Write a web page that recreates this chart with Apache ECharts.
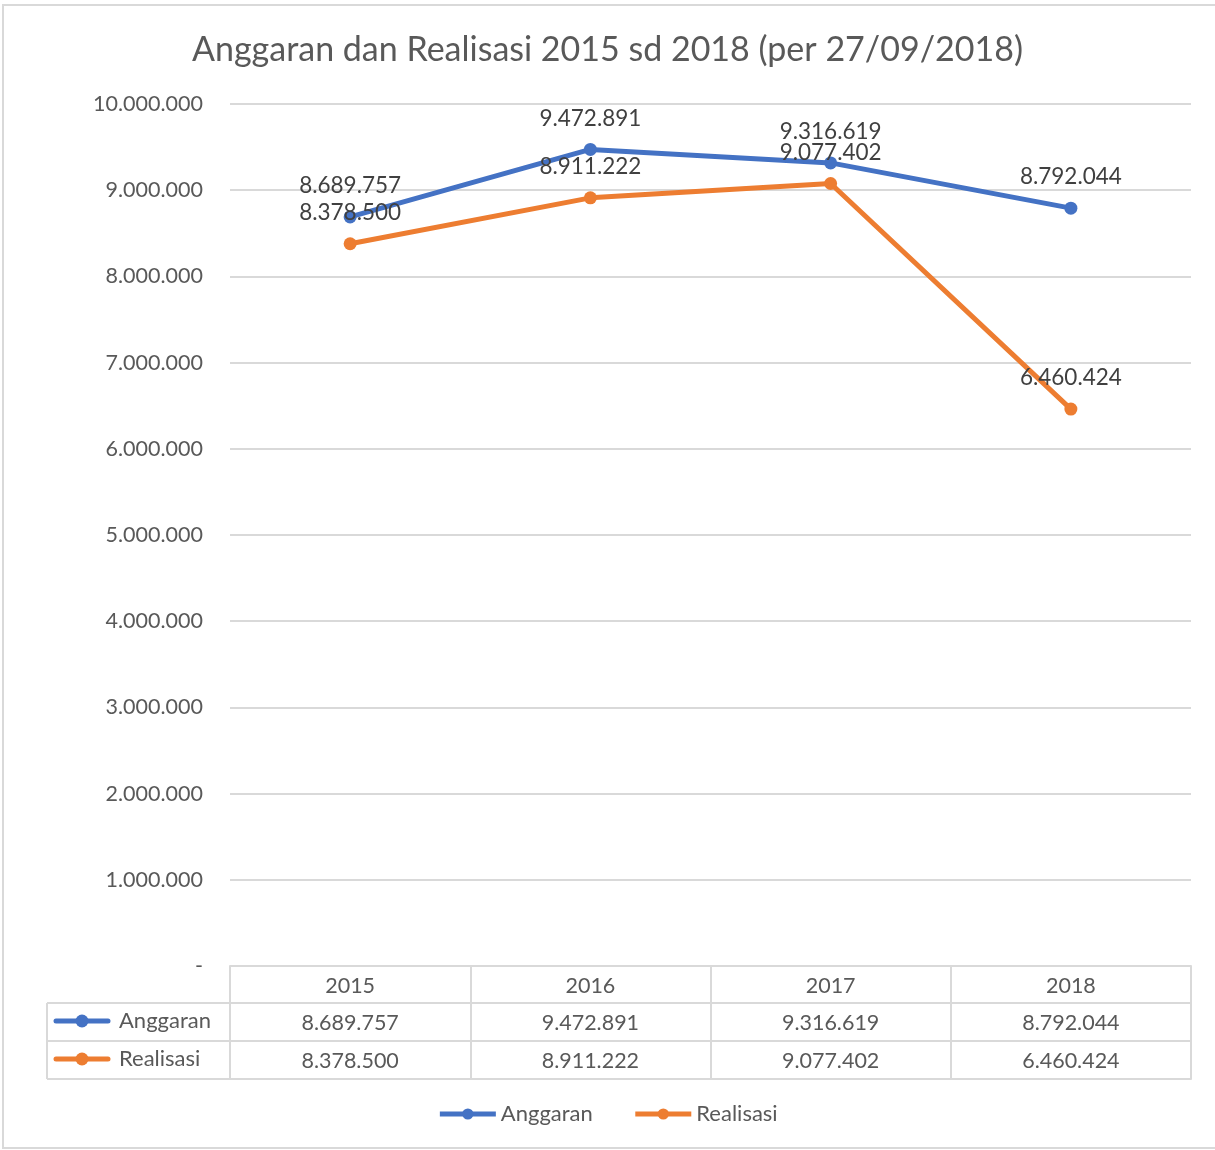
<!DOCTYPE html>
<html>
<head>
<meta charset="utf-8">
<script src="https://cdn.jsdelivr.net/npm/echarts@6/dist/echarts.min.js"></script>
<style>
html,body{margin:0;padding:0;background:#fff;}
#chart{width:1215px;height:1150px;}
</style>
</head>
<body>
<div id="chart"></div>
<script>
const years = ['2015', '2016', '2017', '2018'];
const seriesNames = ['Anggaran', 'Realisasi'];
const anggaran = [8689757, 9472891, 9316619, 8792044];
const realisasi = [8378500, 8911222, 9077402, 6460424];
const titleText = 'Anggaran dan Realisasi 2015 sd 2018 (per 27/09/2018)';

const colors = ['#4472C4', '#ED7D31'];
const FONT = 'Lato';
const gridCol = '#d9d9d9';
const txtCol = '#595959';

function fmt(n) {
  if (n === 0) return '-';
  return String(Math.round(n)).replace(/\B(?=(\d{3})+(?!\d))/g, '.');
}

const chart = echarts.init(document.getElementById('chart'), null, {renderer: 'canvas'});

function tableAxis(offset, values, showLabels, showTicks) {
  return {
    type: 'category',
    data: years,
    position: 'bottom',
    offset: offset,
    boundaryGap: true,
    axisLine: {show: true, lineStyle: {color: gridCol, width: 2}},
    axisTick: {show: showTicks, length: 38, lineStyle: {color: gridCol, width: 2}},
    axisLabel: {
      show: showLabels,
      margin: 9,
      fontSize: 21.5,
      fontFamily: FONT,
      color: txtCol,
      formatter: function (v, i) { return values ? fmt(values[i]) : v; }
    },
    splitLine: {show: false}
  };
}

const rowKeys = [];
seriesNames.forEach(function (name, k) {
  const cy = 1021 + k * 38;
  rowKeys.push({type: 'line', shape: {x1: 56, y1: cy, x2: 108, y2: cy}, style: {stroke: colors[k], lineWidth: 5, lineCap: 'round'}, z: 10});
  rowKeys.push({type: 'circle', shape: {cx: 82, cy: cy, r: 6.5}, style: {fill: colors[k]}, z: 11});
  rowKeys.push({type: 'text', x: 119, y: cy, style: {text: name, font: '22px ' + FONT, fill: txtCol, verticalAlign: 'middle', align: 'left'}, z: 10});
});

const option = {
  backgroundColor: '#fff',
  animation: false,
  title: {
    text: titleText,
    left: 'center',
    top: 28,
    textStyle: {fontSize: 34, fontWeight: 'normal', color: txtCol, fontFamily: FONT}
  },
  legend: {
    bottom: 20,
    left: 'center',
    itemWidth: 56,
    itemHeight: 14,
    itemGap: 40,
    data: seriesNames,
    lineStyle: {width: 5},
    textStyle: {fontSize: 22, color: txtCol, fontFamily: FONT}
  },
  grid: {left: 230, right: 24, top: 104, bottom: 184, containLabel: false},
  xAxis: [
    tableAxis(0, null, true, true),
    tableAxis(37, anggaran, true, true),
    tableAxis(75, realisasi, true, true),
    tableAxis(113, null, false, false)
  ],
  yAxis: {
    type: 'value',
    min: 0,
    max: 10000000,
    interval: 1000000,
    axisLine: {show: false},
    axisTick: {show: false},
    axisLabel: {margin: 27, fontSize: 21.5, color: txtCol, fontFamily: FONT, formatter: fmt},
    splitLine: {lineStyle: {color: gridCol, width: 2}}
  },
  series: seriesNames.map(function (name, k) {
    return {
      name: name,
      type: 'line',
      xAxisIndex: 0,
      data: k === 0 ? anggaran : realisasi,
      color: colors[k],
      symbol: 'circle',
      symbolSize: 13,
      lineStyle: {width: 5, color: colors[k]},
      itemStyle: {color: colors[k]},
      label: {
        show: true,
        position: 'top',
        distance: 13,
        fontSize: 22.5,
        fontFamily: FONT,
        color: '#404040',
        formatter: function (p) { return fmt(p.value); }
      },
      z: 5 + k
    };
  }),
  graphic: [
    {type: 'rect', shape: {x: 3, y: 5, width: 1230, height: 1143}, style: {fill: 'none', stroke: gridCol, lineWidth: 2}, z: 1},
    {type: 'line', shape: {x1: 47, y1: 1003, x2: 230, y2: 1003}, style: {stroke: gridCol, lineWidth: 2}},
    {type: 'line', shape: {x1: 47, y1: 1041, x2: 230, y2: 1041}, style: {stroke: gridCol, lineWidth: 2}},
    {type: 'line', shape: {x1: 47, y1: 1079, x2: 230, y2: 1079}, style: {stroke: gridCol, lineWidth: 2}},
    {type: 'line', shape: {x1: 47, y1: 1003, x2: 47, y2: 1079}, style: {stroke: gridCol, lineWidth: 2}}
  ].concat(rowKeys)
};

chart.setOption(option);
</script>
</body>
</html>
